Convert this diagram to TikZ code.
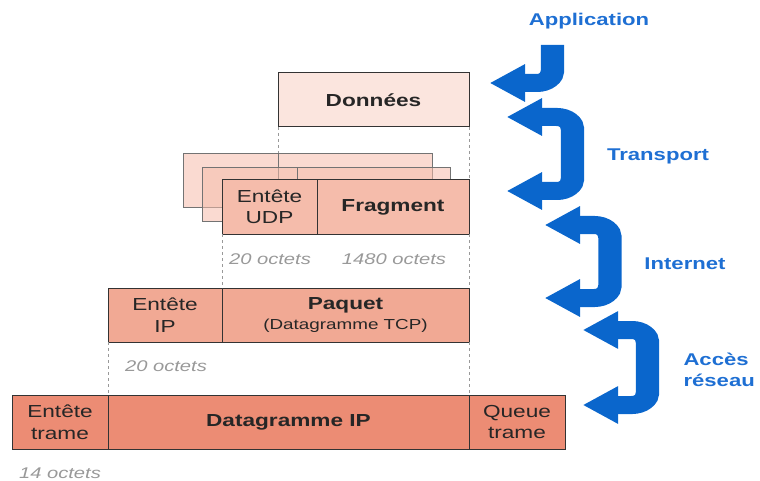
\documentclass[tikz,border=0pt]{standalone}
\usepackage{fontspec}
\setmainfont{Liberation Sans}[FakeStretch=1.3]
\usetikzlibrary{arrows.meta}
\definecolor{datfill}{HTML}{FBE5DE}
\definecolor{udpfill}{HTML}{F5BCAB}
\definecolor{ipfill}{HTML}{F1A994}
\definecolor{framefill}{HTML}{EC8C74}
\definecolor{flowblue}{HTML}{0A66CC}
\definecolor{layerblue}{HTML}{1E6FD3}
\begin{document}
\begin{tikzpicture}[x=1pt,y=-1pt,
  cell/.style={draw=black!80,line width=1pt,minimum height=54pt,inner sep=0pt,outer sep=0pt,
    align=center,text=black!85,font=\fontsize{17.4}{21.5}\selectfont},
  ghost/.style={draw=black!55,line width=0.9pt,fill=udpfill,fill opacity=0.55,
    minimum height=54pt,inner sep=0pt,outer sep=0pt},
  guide/.style={draw=black!40,line width=0.9pt,dash pattern=on 3pt off 3pt},
  octets/.style={text=black!40,font=\fontsize{15.5}{18}\selectfont\itshape},
  layer/.style={text=layerblue,align=left,font=\fontsize{17}{21}\selectfont\bfseries},
  flow/.style={draw=flowblue,line width=18pt,rounded corners=12pt},
  head/.style={-{Triangle[length=27pt,width=36pt]}},
  heads/.style={{Triangle[length=27pt,width=36pt]}-{Triangle[length=27pt,width=36pt]}}]
\useasboundingbox (0,0) rectangle (760,481);
% application
\node[cell,fill=datfill,minimum width=191pt] (donnees) at (373.5,100) {\textbf{Données}};
% transport
\node[ghost,minimum width=95pt] (back1a) at (230.5,180) {};
\node[ghost,minimum width=154pt] (back1b) at (355,180) {};
\node[ghost,minimum width=95pt] (back2a) at (249.5,194) {};
\node[ghost,minimum width=153pt] (back2b) at (373.5,194) {};
\node[cell,fill=udpfill,minimum width=95pt] (udph) at (269.5,207) {Entête\\UDP};
\node[cell,fill=udpfill,minimum width=152pt] (frag) at (393,207) {\textbf{Fragment}};
\node[octets] (udpsize) at (270,259) {20 octets};
\node[octets] (fragsize) at (394,259) {1480 octets};
% internet
\node[cell,fill=ipfill,minimum width=114pt] (iph) at (165,315) {Entête\\IP};
\node[cell,fill=ipfill,minimum width=247pt] (paquet) at (345.5,315)
  {\textbf{Paquet}\\[-2pt]{\fontsize{14.5}{17}\selectfont(Datagramme TCP)}};
\node[octets] (ipsize) at (166,366) {20 octets};
% acces reseau
\node[cell,fill=framefill,minimum width=96pt] (frameh) at (60,422) {Entête\\trame};
\node[cell,fill=framefill,minimum width=361pt] (dgip) at (288.5,422) {\textbf{Datagramme IP}};
\node[cell,fill=framefill,minimum width=96pt] (queue) at (517,422) {Queue\\trame};
\node[octets] (framesize) at (60,473) {14 octets};
% guides
\draw[guide] (donnees.south west) -- (back1a.north east);
\draw[guide] (donnees.south east) -- (frag.north east);
\draw[guide] (udph.south west) -- (iph.north east);
\draw[guide] (frag.south east) -- (paquet.north east);
\draw[guide] (iph.south west) -- (dgip.north west);
\draw[guide] (paquet.south east) -- (dgip.north east);
% layers
\node[layer] (app) at (589,21) {Application};
\node[layer] (trans) at (658,156) {Transport};
\node[layer] (inet) at (685,264) {Internet};
\node[layer,anchor=west] (acces) at (680,370) {Accès\\réseau};
\begin{scope}[transform canvas={xscale=1.3}]
\draw[flow,head] (425,45) -- (425,83) -- (376.9,83);
\draw[flow,heads] (390,117) -- (440.4,117) -- (440.4,191) -- (390,191);
\draw[flow,heads] (419.2,225) -- (469.2,225) -- (469.2,298) -- (419.2,298);
\draw[flow,heads] (448.5,330) -- (498.1,330) -- (498.1,405) -- (448.5,405);
\end{scope}
\end{tikzpicture}
\end{document}
